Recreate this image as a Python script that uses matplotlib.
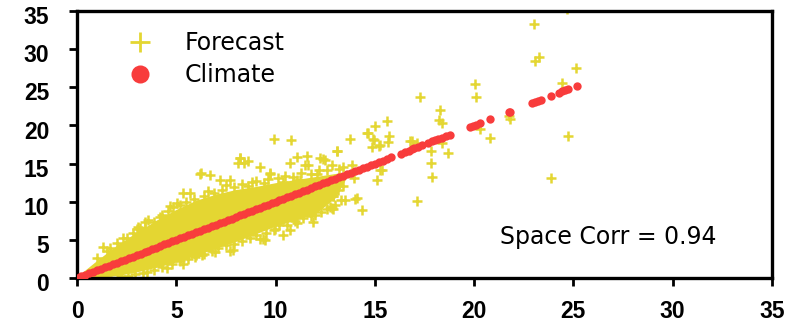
import matplotlib
matplotlib.use("Agg")
import matplotlib.pyplot as plt
import matplotlib.transforms as mtransforms
from matplotlib.lines import Line2D

# forecast cloud: solid core envelope
core_x = [0, 1, 2, 3, 4, 5, 6, 7, 8, 9, 10, 11, 12, 13, 13.6]
core_hi = [0.2, 2.3, 4.3, 6.0, 7.6, 9.0, 10.2, 11.0, 11.6, 12.0, 12.5, 12.9, 13.3, 13.7, 13.9]
core_lo = [0.0, 0.1, 0.3, 0.8, 1.4, 2.1, 3.0, 3.9, 4.8, 5.8, 6.8, 7.6, 8.4, 10.5, 13.3]

# forecast points outside the solid core
fc_x = [1.33, 1.66, 2.33, 3.09, 3.18, 3.6, 4.18, 4.69, 5.02, 3.0, 3.43, 4.85,
        5.32, 5.7, 6.25, 6.7, 6.2, 7.2, 7.71, 8.22, 8.63, 8.8, 8.13, 8.43, 8.2,
        9.22, 9.7, 9.73, 9.9, 10.77, 10.4, 10.74, 11.07, 11.1, 11.58, 11.49,
        11.66, 11.24, 12.41, 12.08, 12.25, 12.5, 13.09, 12.84, 12.92, 13.42,
        13.76, 13.85, 13.09, 14.6, 15.0, 15.6, 15.74, 14.9, 15.19, 15.66,
        14.68, 14.94, 14.85, 15.27, 15.24, 15.1, 15.36, 13.93, 13.17, 13.42,
        0.66, 2.59, 3.51, 4.52, 5.36, 5.95, 6.7, 6.28, 6.96, 7.88, 7.71, 8.55,
        9.22, 9.39, 9.47, 9.98, 10.4, 10.74, 11.07, 11.91, 12.0, 12.25, 12.75,
        12.92, 12.92, 14.01, 14.35, 14.1, 13.49, 12.83,
        16.78, 16.87, 17.12, 17.29, 17.83, 17.83, 17.9, 17.12, 18.26, 18.38,
        18.3, 18.38, 18.67, 20.03, 20.1, 20.3, 20.8, 21.75, 21.8, 23.0, 23.08,
        23.25, 24.43, 25.15, 24.73, 23.9, 24.7,
        # upper edge of the cloud
        1.0, 1.5, 2.0, 2.5, 2.8, 3.4, 3.9, 4.3, 4.6, 5.2, 5.5, 5.9, 6.4, 6.6,
        6.9, 7.3, 7.5, 7.9, 8.3, 8.6, 9.0, 9.4, 9.6, 10.1, 10.5, 10.9, 11.3,
        11.8, 12.2, 12.6, 13.2,
        # lower edge of the cloud
        1.5, 2.2, 2.9, 3.3, 3.9, 4.3, 4.8, 5.2, 5.6, 6.0, 6.4, 6.8, 7.1, 7.5,
        7.9, 8.3, 8.7, 9.0, 9.5, 9.9, 10.2, 10.6, 11.0, 11.4, 11.8, 12.3, 12.6,
        13.0, 13.3]
fc_y = [4.1, 3.9, 5.2, 6.65, 6.5, 7.6, 8.0, 9.4, 9.8, 6.4, 7.4, 9.3,
        11.2, 11.2, 13.8, 13.5, 13.7, 12.9, 12.8, 15.7, 15.3, 12.6, 15.1, 15.1, 15.7,
        14.6, 13.8, 13.7, 18.2, 18.1, 12.6, 15.05, 15.8, 12.9, 16.0, 14.8,
        14.8, 12.9, 15.6, 13.7, 15.7, 15.5, 16.6, 14.8, 10.7, 14.6,
        18.2, 14.8, 16.7, 19.0, 19.9, 20.6, 18.6, 18.2, 17.3, 17.8,
        19.0, 18.1, 17.2, 17.45, 14.1, 12.9, 14.1, 13.1, 11.55, 12.0,
        0.0, 0.2, 0.8, 1.3, 1.9, 2.7, 4.1, 3.0, 3.45, 3.7, 3.6, 5.9,
        5.1, 5.1, 5.0, 6.4, 5.6, 6.3, 7.2, 7.3, 8.3, 9.8, 9.3,
        9.1, 10.7, 10.3, 8.9, 10.5, 10.2, 9.15,
        17.9, 17.9, 17.7, 23.7, 16.6, 15.05, 13.3, 10.1, 20.7, 20.3,
        22.0, 17.7, 16.4, 25.4, 23.7, 19.5, 18.4, 21.3, 20.9, 33.3, 28.5,
        29.0, 25.6, 27.5, 18.6, 13.1, 35.3,
        2.6, 3.5, 4.6, 5.3, 5.9, 6.6, 7.4, 8.3, 8.8, 9.6, 9.9, 10.4, 10.8, 11.4,
        11.2, 11.6, 12.2, 11.9, 12.3, 12.1, 12.7, 12.4, 13.0, 13.1, 13.4, 13.3,
        13.8, 13.6, 14.1, 14.2, 14.3,
        0.1, 0.2, 0.5, 0.7, 1.1, 1.5, 1.8, 2.2, 2.5, 3.0, 3.2, 3.6, 3.9, 4.3,
        4.5, 4.9, 5.3, 5.6, 5.9, 6.3, 6.9, 7.0, 7.5, 7.9, 8.1, 8.7, 9.0,
        9.6, 10.2]

# climate points lie on the diagonal (x and y are the same value)
climate = [0.0, 0.2, 0.4, 0.6, 0.8, 1.0, 1.2, 1.4, 1.6, 1.8, 2.0, 2.2, 2.4, 2.6,
           2.8, 3.0, 3.2, 3.4, 3.6, 3.8, 4.0, 4.2, 4.4, 4.6, 4.8, 5.0, 5.2, 5.4,
           5.6, 5.8, 6.0, 6.2, 6.4, 6.6, 6.8, 7.0, 7.2, 7.4, 7.6, 7.8, 8.0, 8.2,
           8.4, 8.6, 8.8, 9.0, 9.2, 9.4, 9.6, 9.8, 10.0, 10.2, 10.4, 10.6, 10.8,
           11.0, 11.2, 11.4, 11.6, 11.8, 12.0, 12.2, 12.4, 12.6, 12.8, 13.0, 13.2,
           13.4, 13.6, 13.8, 14.0, 14.2, 14.4, 14.6, 14.8, 15.0, 15.2, 15.4, 15.6,
           15.8, 16.3, 16.5, 16.7, 16.9, 17.0, 17.2, 17.4, 17.7, 17.9, 18.05, 18.2,
           18.4, 18.6, 18.8, 19.8, 19.95, 20.1, 20.3, 20.8, 21.75, 21.8, 22.9,
           23.05, 23.2, 23.35, 23.9, 24.3, 24.45, 24.6, 24.75, 25.2]

ticks = [0, 5, 10, 15, 20, 25, 30, 35]
yellow = '#e4d632'
red = '#f83c3c'

fig = plt.figure(figsize=(7.94, 3.22), dpi=100)
ax = fig.add_axes([0.097, 0.1366, 0.875, 0.8292])

ax.fill_between(core_x, core_lo, core_hi, color=yellow, lw=0, zorder=1)
ax.plot(fc_x, fc_y, ls='none', marker='+', ms=6.5, mew=1.8, color=yellow, zorder=2)
ax.plot(climate, climate, ls='none', marker='o', ms=6, mew=0, color=red, zorder=3)

ax.set_xlim(0, 35)
ax.set_ylim(0, 35)
ax.set_xticks(ticks)
ax.set_yticks(ticks)
for s in ax.spines.values():
    s.set_linewidth(2.4)
ax.tick_params(direction='out', length=6, width=2)
ax.tick_params(axis='x', pad=10)
ax.tick_params(axis='y', pad=14)
for lab in ax.get_xticklabels() + ax.get_yticklabels():
    lab.set_fontfamily('Liberation Sans')
    lab.set_fontweight('bold')
    lab.set_fontsize(16.5)
shift = mtransforms.ScaledTranslation(0, -3 / 72, fig.dpi_scale_trans)
for lab in ax.get_yticklabels():
    lab.set_transform(lab.get_transform() + shift)

handles = [Line2D([], [], ls='none', marker='+', ms=15, mew=2, color=yellow),
           Line2D([], [], ls='none', marker='o', ms=13, mew=0, color=red)]
ax.legend(handles, ['Forecast', 'Climate'], loc='upper left',
          bbox_to_anchor=(0.028, 1.0), frameon=False, fontsize=17,
          handletextpad=0.9, labelspacing=0.35, borderaxespad=0.45)

ax.text(0.609, 0.154, 'Space Corr = 0.94', transform=ax.transAxes,
        fontsize=17, va='center', ha='left')

fig.savefig('out.png', dpi=100)
